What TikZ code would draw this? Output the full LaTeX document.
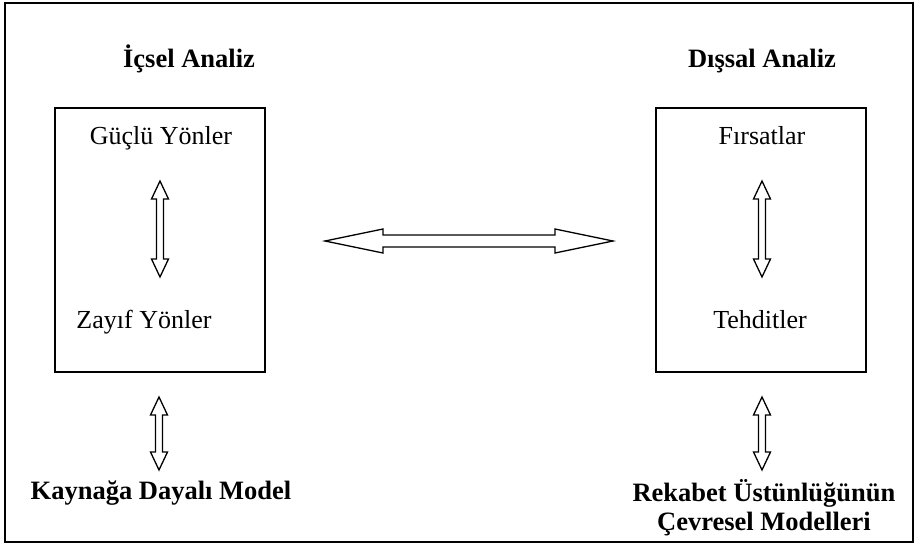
\documentclass[tikz,border=0pt]{standalone}
\usepackage{fontspec}
\setmainfont{Liberation Serif}
\usetikzlibrary{calc}

\begin{document}
\begin{tikzpicture}[
  x=1pt,y=-1pt,
  label text/.style={
    anchor=base,
    inner sep=0pt,
    font=\fontsize{26}{29}\selectfont
  },
  heading/.style={label text,font=\fontsize{26.5}{29}\selectfont\bfseries},
  panel/.style={
    draw=black,
    line width=1.3pt,
    minimum width=210pt,
    minimum height=264pt,
    inner sep=0pt
  },
  vlink/.style={
    draw=black,
    line width=1.3pt,
    line join=miter,
    to path={
      let \p1=(\tikztostart), \p2=(\tikztotarget) in
      (\x1,\y1) -- (\x1+8.5pt,\y1-18pt) -- (\x1+3.5pt,\y1-18pt)
      -- (\x1+3.5pt,\y2+18pt) -- (\x1+8.5pt,\y2+18pt) -- (\x2,\y2)
      -- (\x1-8.5pt,\y2+18pt) -- (\x1-3.5pt,\y2+18pt)
      -- (\x1-3.5pt,\y1-18pt) -- (\x1-8.5pt,\y1-18pt) -- cycle
    }
  },
  hlink/.style={
    draw=black,
    line width=1.3pt,
    line join=miter,
    to path={
      let \p1=(\tikztostart), \p2=(\tikztotarget) in
      (\x1,\y1) -- (\x1+58pt,\y1+12pt) -- (\x1+58pt,\y1+6pt)
      -- (\x2-58pt,\y1+6pt) -- (\x2-58pt,\y1+12pt) -- (\x2,\y2)
      -- (\x2-58pt,\y1-12pt) -- (\x2-58pt,\y1-6pt)
      -- (\x1+58pt,\y1-6pt) -- (\x1+58pt,\y1-12pt) -- cycle
    }
  }
]
\useasboundingbox (0,0) rectangle (919,546);
\draw[line width=1.6pt] (5,3) rectangle (913,542);

% Internal side
\node[heading] (icsel) at (189,67) {İçsel Analiz};
\node[panel] (icbox) at (160,240) {};
\node[label text] (guclu) at (161,144) {Güçlü Yönler};
\node[label text] (zayif) at (144,328) {Zayıf Yönler};
\node[heading] (kaynak) at (161,499) {Kaynağa Dayalı Model};

% External side
\node[heading] (dissal) at (762,67) {Dışsal Analiz};
\node[panel] (disbox) at (761,240) {};
\node[label text] (firsat) at (762,144) {Fırsatlar};
\node[label text] (tehdit) at (760,328) {Tehditler};
\node[heading,align=center] (rekabet) at (764,530)
  {Rekabet Üstünlüğünün\\Çevresel Modelleri};

% Arrow ends
\coordinate (gz top) at (160,181);
\coordinate (gz bot) at (160,277);
\coordinate (ft top) at (762,181);
\coordinate (ft bot) at (762,277);
\coordinate (ik top) at (159,397);
\coordinate (ik bot) at (159,470);
\coordinate (dr top) at (762,397);
\coordinate (dr bot) at (762,470);
\coordinate (mid left) at (325,241);
\coordinate (mid right) at (613,241);

% Links
\draw[vlink] (gz top) to (gz bot);
\draw[vlink] (ft top) to (ft bot);
\draw[vlink] (ik top) to (ik bot);
\draw[vlink] (dr top) to (dr bot);
\draw[hlink] (mid left) to (mid right);
\end{tikzpicture}
\end{document}
